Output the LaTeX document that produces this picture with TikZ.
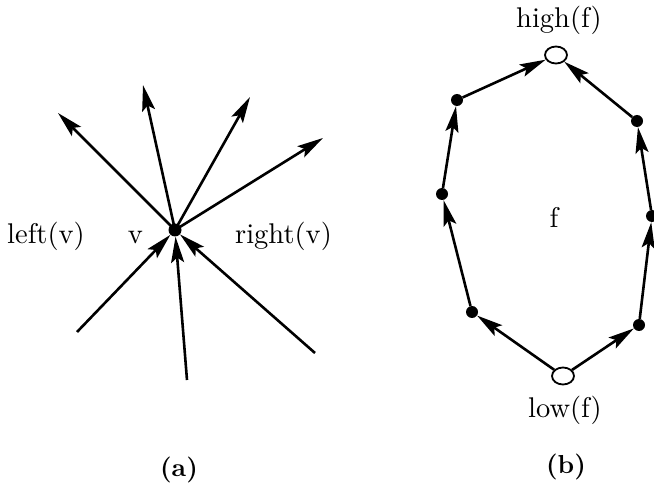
\documentclass[tikz,border=0pt]{standalone}
\usepackage{fontspec}
\setmainfont{lmroman10-regular.otf}[BoldFont=lmroman10-bold.otf]
\usetikzlibrary{arrows.meta,shapes.geometric}
\begin{document}
\begin{tikzpicture}[x=1pt,y=-1pt,
  dot/.style={circle,fill=black,inner sep=0pt,minimum size=12pt},
  hollow/.style={ellipse,draw,fill=white,line width=1.8pt,inner sep=0pt,minimum width=22pt,minimum height=17pt},
  arr/.style={line width=2.6pt,-{Stealth[length=26pt,width=13pt,inset=5pt]}},
  lbl/.style={font=\fontsize{28.5}{32}\selectfont,inner sep=0pt},
  captext/.style={font=\fontsize{26}{30}\selectfont\bfseries,inner sep=0pt}]
\useasboundingbox (0,0) rectangle (654,484);
% (a)
\node[dot,minimum size=13pt] (v) at (175,230) {};
\coordinate (o1) at (58,113);
\coordinate (o2) at (143,85);
\coordinate (o3) at (250,97);
\coordinate (o4) at (323,138);
\coordinate (i1) at (77,332);
\coordinate (i2) at (187,380);
\coordinate (i3) at (315,353);
\foreach \t in {o1,o2,o3,o4} \draw[arr] (v.center) -- (\t);
\foreach \s in {i1,i2,i3} \draw[arr] (\s) -- (v);
\node[lbl] (lv) at (46,236) {left(v)};
\node[lbl] (vl) at (135.5,237.5) {v};
\node[lbl] (rv) at (283.5,236.5) {right(v)};
\node[captext] (ca) at (179,470) {(a)};
% (b)
\node[hollow] (hi) at (556,55) {};
\node[hollow] (lo) at (563,376) {};
\node[dot] (l1) at (472,312) {};
\node[dot] (l2) at (442,194) {};
\node[dot] (l3) at (457,100) {};
\node[dot] (r1) at (639,325) {};
\node[dot] (r2) at (652,216) {};
\node[dot] (r3) at (637,121) {};
\draw[arr] (lo) -- (l1);
\draw[arr] (l1) -- (l2);
\draw[arr] (l2) -- (l3);
\draw[arr] (l3) -- (hi);
\draw[arr] (lo) -- (r1);
\draw[arr] (r1) -- (r2);
\draw[arr] (r2) -- (r3);
\draw[arr] (r3) -- (hi);
\node[lbl] (hl) at (559,20) {high(f)};
\node[lbl] (fl) at (554,217) {f};
\node[lbl] (ll) at (565,410) {low(f)};
\node[captext] (cb) at (566,467) {(b)};
\end{tikzpicture}
\end{document}
